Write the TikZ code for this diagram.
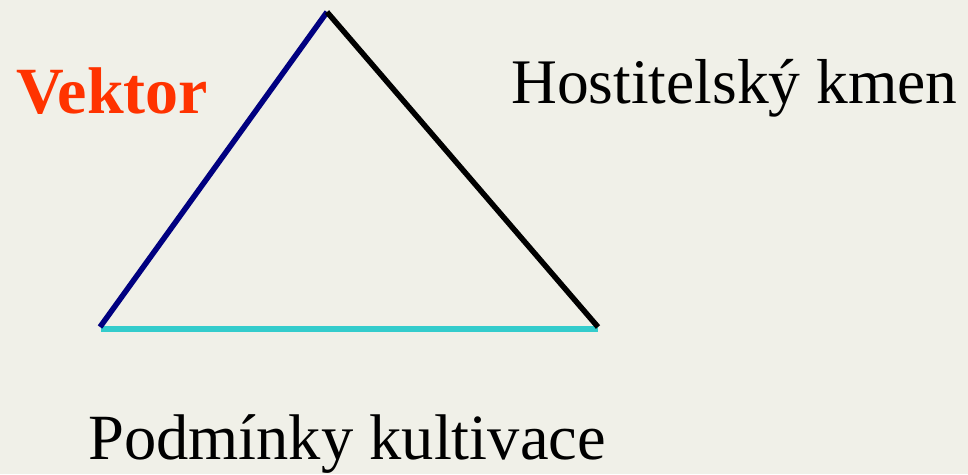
\documentclass[tikz,border=0pt]{standalone}
\usepackage{fontspec}
\setmainfont{Liberation Serif}
\usepackage{xcolor}
\usetikzlibrary{positioning, calc}

\definecolor{bgbeige}{HTML}{F0F0E8}
\definecolor{vecnavy}{HTML}{000080}
\definecolor{cultcyan}{HTML}{33CCCC}
\definecolor{vecred}{HTML}{FF3300}

\begin{document}
\begin{tikzpicture}[
    x=1pt, y=-1pt,
    side/.style={line width=5.5pt, line cap=butt},
    lbl/.style={inner sep=0pt, anchor=base west, font=\fontsize{63.5}{68}\selectfont}
]
    \fill[bgbeige] (0,0) rectangle (968,474);
    \useasboundingbox (0,0) rectangle (968,474);

    \coordinate (top) at (327,12);
    \coordinate (left) at (100,327);
    \coordinate (right) at (598,327);

    \draw[side, line width=6pt, cultcyan] ($(left)+(1,2)$) -- ($(right)+(0,2)$);
    \draw[side, vecnavy] (left) -- (top);
    \draw[side, black] (top) -- (right);

    \node[lbl, text=vecred, font=\fontsize{66}{70}\selectfont\bfseries] (vektor) at (16,113) {Vektor};
    \node[lbl] (kmen) at (511,103) {Hostitelský kmen};
    \node[lbl, font=\fontsize{64.5}{68}\selectfont] (kultivace) at (88,459) {Podmínky kultivace};
\end{tikzpicture}
\end{document}
